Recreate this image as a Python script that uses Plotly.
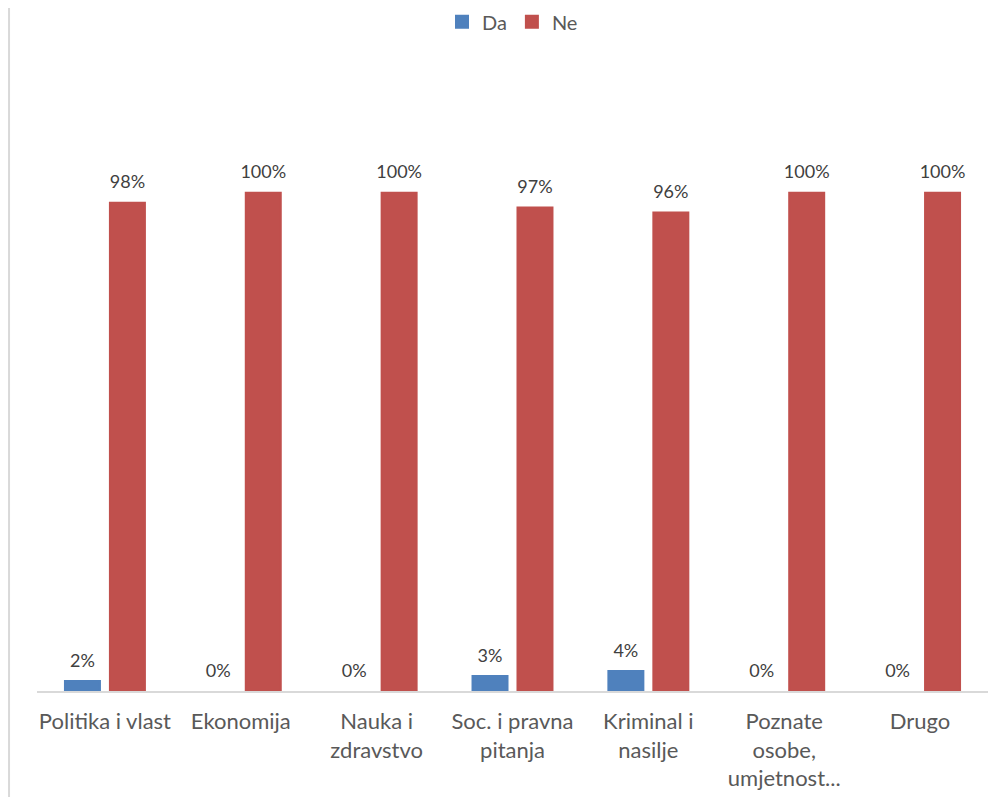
import plotly.graph_objects as go

categories = ["Politika i vlast", "Ekonomija", "Nauka i<br>zdravstvo", "Soc. i pravna<br>pitanja",
              "Kriminal i<br>nasilje", "Poznate<br>osobe,<br>umjetnost...", "Drugo"]
da_values = [0.02, 0.0, 0.0, 0.03, 0.04, 0.0, 0.0]
ne_values = [0.98, 1.0, 1.0, 0.97, 0.96, 1.0, 1.0]

FONT = "Lato"
GAP = 0.338

fig = go.Figure()
series = [("Da", da_values, "#4F81BD"), ("Ne", ne_values, "#C0504D")]
for name, vals, col in series:
    fig.add_trace(go.Bar(name=name, x=categories, y=vals, marker_color=col,
                         marker_line=dict(color=col, width=[2 if v > 0 else 0 for v in vals]),
                         hoverinfo="x+y", offsetgroup=name))
for name, vals, col in series:
    fig.add_trace(go.Scatter(x=categories, y=vals, mode="markers+text", offsetgroup=name,
                             text=[f"{v:.0%}" for v in vals], textposition="top center",
                             marker=dict(size=14, opacity=0), showlegend=False,
                             hoverinfo="skip", cliponaxis=False,
                             textfont=dict(family=FONT, size=18, color="#404040")))

fig.update_layout(
    width=990, height=789,
    margin=dict(l=29, r=10, t=85, b=106, autoexpand=False),
    paper_bgcolor="white", plot_bgcolor="white",
    barmode="group", bargap=GAP, bargroupgap=0.222,
    scattermode="group", scattergap=GAP,
    font=dict(family=FONT, size=22, color="#595959"),
    legend=dict(orientation="h", x=0.5, xanchor="center", y=1.119, yanchor="middle",
                font=dict(family=FONT, size=20, color="#595959")),
    xaxis=dict(showline=True, linecolor="#D9D9D9", linewidth=1.5, showgrid=False,
               automargin=False, ticks="", ticklabelstandoff=10,
               tickfont=dict(family=FONT, size=22, color="#595959")),
    yaxis=dict(range=[0, 1.2], visible=False, showgrid=False, automargin=False),
    shapes=[dict(type="line", xref="paper", yref="paper", x0=-0.0294, x1=-0.0294,
                 y0=1.2, y1=-0.2, line=dict(color="#D9D9D9", width=2))],
)

fig.write_html("out.html")
